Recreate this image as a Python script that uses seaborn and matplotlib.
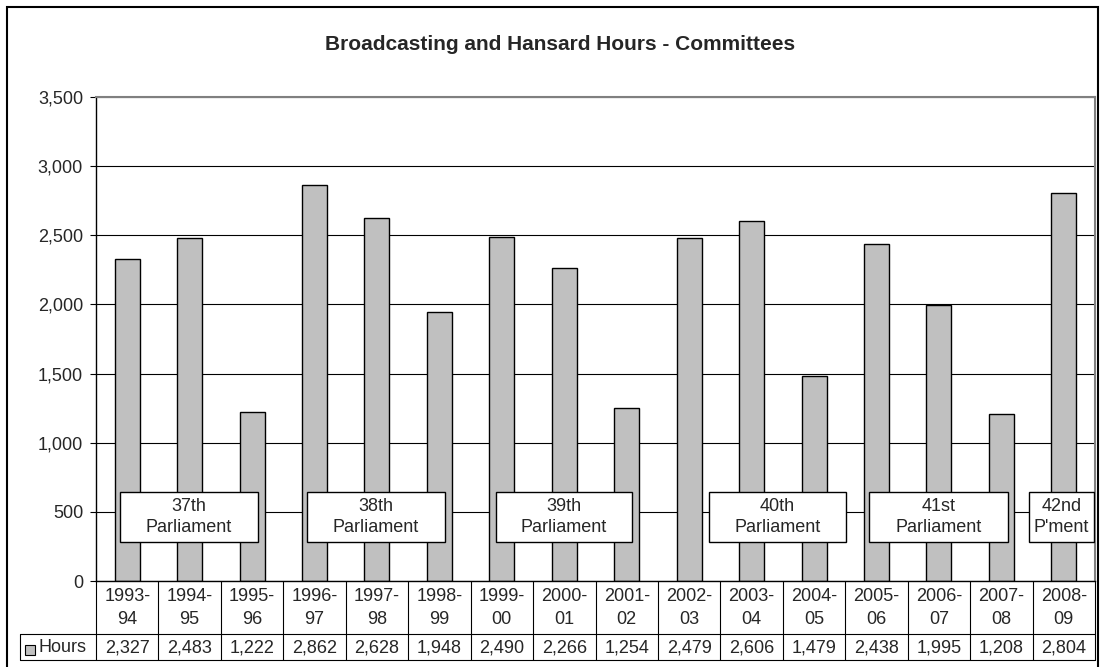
import pandas as pd
import matplotlib
matplotlib.use('Agg')
import matplotlib.pyplot as plt
import matplotlib.ticker as mticker
from matplotlib.patches import Rectangle
import seaborn as sns

# Data
periods = ['1993-94', '1994-95', '1995-96', '1996-97', '1997-98', '1998-99',
           '1999-00', '2000-01', '2001-02', '2002-03', '2003-04', '2004-05',
           '2005-06', '2006-07', '2007-08', '2008-09']
hours = [2327, 2483, 1222, 2862, 2628, 1948, 2490, 2266, 1254, 2479,
         2606, 1479, 2438, 1995, 1208, 2804]
series_name = 'Hours'
title = 'Broadcasting and Hansard Hours - Committees'

# Parliament labels
parliaments = ['37th\nParliament', '38th\nParliament', '39th\nParliament',
               '40th\nParliament', '41st\nParliament', '42nd\nP\'ment']

df = pd.DataFrame({'period': periods, 'hours': hours})

sns.set_style('white')
plt.rcParams['font.family'] = ['Liberation Sans', 'DejaVu Sans']

W, H = 1103, 667
fig = plt.figure(figsize=(W / 100, H / 100), dpi=100)
ax = fig.add_axes([96 / W, 86 / H, 999 / W, 484 / H])

sns.barplot(data=df, x='period', y='hours', color='#c0c0c0', width=0.4,
            edgecolor='black', linewidth=1, saturation=1, ax=ax)

ax.set_xlim(-0.5, len(periods) - 0.5)
ax.set_ylim(0, 3500)
ax.yaxis.set_major_locator(mticker.MultipleLocator(500))
ax.yaxis.set_major_formatter(mticker.StrMethodFormatter('{x:,.0f}'))
ax.yaxis.grid(True, color='black', linewidth=0.8)
ax.set_axisbelow(True)
ax.set_xlabel('')
ax.set_ylabel('')
ax.set_xticks([])
ax.tick_params(axis='y', left=True, length=4.3, width=0.8, color='black',
               labelsize=13, pad=5)

for side in ['left', 'bottom']:
    ax.spines[side].set_color('black')
    ax.spines[side].set_linewidth(1)
for side in ['top', 'right']:
    ax.spines[side].set_color('#808080')
    ax.spines[side].set_linewidth(1.5)
    ax.spines[side].set_visible(True)

# Parliament boxes (x spans in category units)
box_spans = [(-0.116, 2.094), (2.879, 5.089), (5.906, 8.084),
             (9.317, 11.511), (11.88, 14.106), (14.442, 15.483)]
for label, (x0, x1) in zip(parliaments, box_spans):
    ax.add_patch(Rectangle((x0, 282), x1 - x0, 362, facecolor='white',
                           edgecolor='black', linewidth=1, zorder=5))
    ax.text((x0 + x1) / 2, 460, label, ha='center', va='center',
            fontsize=13, zorder=6, linespacing=1.3)

# Data table below the axis
def yfrac(py):
    return (581 - py) / 484

xt = ax.get_xaxis_transform()
y_mid = yfrac(634)
y_bot = yfrac(660)
x_left = (20 - 96) / 999

for i in range(len(periods) + 1):
    ax.plot([i - 0.5, i - 0.5], [0, y_bot], transform=xt, color='black',
            linewidth=0.8, clip_on=False)
for yy in [y_mid, y_bot]:
    ax.plot([x_left, 1], [yy, yy], transform=ax.transAxes, color='black',
            linewidth=0.8, clip_on=False)
ax.plot([x_left, x_left], [y_mid, y_bot], transform=ax.transAxes,
        color='black', linewidth=0.8, clip_on=False)

for i, (p, h) in enumerate(zip(periods, hours)):
    ax.text(i, yfrac(608), p.replace('-', '-\n'), transform=xt,
            ha='center', va='center', fontsize=13, linespacing=1.45)
    ax.text(i, yfrac(648), f'{h:,}', transform=xt, ha='center',
            va='center', fontsize=13)

ax.add_patch(Rectangle(((25 - 96) / 999, yfrac(655)), 10 / 999, 10 / 484,
                       transform=ax.transAxes, facecolor='#c0c0c0',
                       edgecolor='black', linewidth=0.8, clip_on=False))
ax.text((39 - 96) / 999, yfrac(648), series_name, transform=ax.transAxes,
        ha='left', va='center', fontsize=13)

# Title and outer border
fig.text(560 / W, (H - 44) / H, title, ha='center', va='center',
         fontsize=15, fontweight='bold')
fig.add_artist(Rectangle((7 / W, -0.01), (1098 - 7) / W, (H - 7) / H + 0.01,
                         transform=fig.transFigure, fill=False,
                         edgecolor='black', linewidth=1.5))

fig.savefig('out.png', dpi=100)
